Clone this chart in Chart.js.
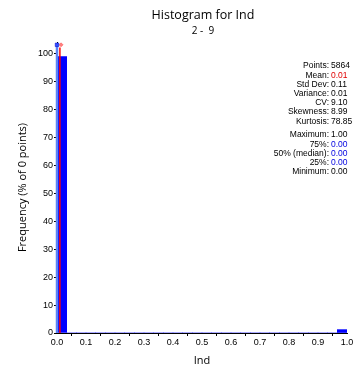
<!DOCTYPE html>
<html>
<head>
<meta charset="utf-8">
<script src="https://cdn.jsdelivr.net/npm/chart.js@4/dist/chart.umd.min.js"></script>
<style>
  body { margin: 0; background: #fff; }
  canvas { display: block; }
</style>
</head>
<body>
<canvas id="histo" width="355" height="367"></canvas>
<script>
// histogram bins over 0..1, percent of points per bin
const binCount = 30;
const binFreq = [98.8, 0, 0, 0, 0, 0, 0, 0, 0, 0,
                 0, 0, 0, 0, 0, 0, 0, 0, 0, 0,
                 0, 0, 0, 0, 0, 0, 0, 0, 0, 1.2];
const xTicks = [0, 0.1, 0.2, 0.3, 0.4, 0.5, 0.6, 0.7, 0.8, 0.9, 1.0];
const meanValue = 0.01;
const medianValue = 0.0;
const markerLevel = 103;

const statLabels = ["Points:", "Mean:", "Std Dev:", "Variance:", "CV:", "Skewness:", "Kurtosis:"];
const statValues = ["5864", "0.01", "0.11", "0.01", "9.10", "8.99", "78.85"];
const quantLabels = ["Maximum:", "75%:", "50% (median):", "25%:", "Minimum:"];
const quantValues = ["1.00", "0.00", "0.00", "0.00", "0.00"];

const binWidth = 1 / binCount;
const barData = binFreq.map((v, i) => ({ x: (i + 0.5) * binWidth, y: v }));

const sansFont = "'Liberation Sans', Arial, sans-serif";
const titleFont = "'Open Sans', sans-serif";

// titles + stats box
const overlay = {
  id: "overlay",
  afterDraw(chart) {
    const c = chart.ctx;
    c.save();
    c.fillStyle = "#000";
    c.textAlign = "center";
    c.textBaseline = "middle";
    c.font = "12.5px " + titleFont;
    c.fillText("Histogram for Ind", 203, 15);
    c.font = "10px " + titleFont;
    c.fillText("2 -  9", 203, 31);

    c.font = "8.5px " + sansFont;
    const colX = 329;
    const drawRow = (lab, val, y, col) => {
      c.textAlign = "right";
      c.fillStyle = "#000";
      c.fillText(lab, colX, y);
      c.textAlign = "left";
      c.fillStyle = col;
      c.fillText(val, colX + 2, y);
    };
    statLabels.forEach((l, i) => {
      drawRow(l, statValues[i], 66 + i * 9.2, l === "Mean:" ? "#e00000" : "#000");
    });
    quantLabels.forEach((l, i) => {
      const blue = l !== "Maximum:" && l !== "Minimum:";
      drawRow(l, quantValues[i], 135 + i * 9.2, blue ? "#0000e0" : "#000");
    });
    c.restore();
  },
};

new Chart(document.getElementById("histo"), {
  data: {
    datasets: [
      {
        type: "bar",
        data: barData,
        backgroundColor: "#0000ff",
        borderWidth: 0,
        barPercentage: 1,
        categoryPercentage: 1,
        order: 3,
      },
      {
        type: "line",
        data: [{ x: medianValue, y: 0 }, { x: medianValue, y: markerLevel }],
        borderColor: "#5b84f5",
        borderWidth: 2.5,
        pointRadius: 0,
        clip: false,
        order: 2,
      },
      {
        type: "line",
        data: [{ x: meanValue, y: 0 }, { x: meanValue, y: markerLevel - 1 }],
        borderColor: "#ff0000",
        borderWidth: 1.5,
        pointRadius: 0,
        clip: false,
        order: 1,
      },
      {
        type: "scatter",
        data: [{ x: medianValue, y: markerLevel }],
        pointStyle: "rect",
        pointRadius: 2.5,
        backgroundColor: "#3050ff",
        borderColor: "#0000cc",
        borderWidth: 0.5,
        clip: false,
        order: 0,
      },
      {
        type: "scatter",
        data: [{ x: meanValue + 0.004, y: markerLevel }],
        pointStyle: "rectRot",
        pointRadius: 2,
        backgroundColor: "#ff8080",
        borderColor: "#ff4040",
        borderWidth: 0.5,
        clip: false,
        order: 0,
      },
    ],
  },
  options: {
    responsive: false,
    animation: false,
    layout: { padding: { top: 42, right: 8, left: 0, bottom: 0 } },
    plugins: {
      legend: { display: false },
      tooltip: { enabled: false },
      title: { display: false },
    },
    scales: {
      x: {
        type: "linear",
        min: 0,
        max: 1,
        offset: false,
        afterBuildTicks: (s) => { s.ticks = xTicks.map((v) => ({ value: v })); },
        afterFit: (s) => { s.height = 34; },
        ticks: {
          color: "#000",
          font: { size: 9, family: sansFont },
          padding: 1,
          maxRotation: 0,
          callback: (v) => Number(v).toFixed(1),
        },
        grid: { drawOnChartArea: false, drawTicks: true, tickLength: 3, color: "#000" },
        border: { color: "#000", width: 1 },
        title: {
          display: true,
          text: "Ind",
          color: "#000",
          font: { size: 11, family: titleFont },
          padding: { top: 3, bottom: 0 },
        },
      },
      y: {
        min: 0,
        max: 104,
        afterBuildTicks: (s) => { s.ticks = s.ticks.filter((t) => t.value % 10 === 0); },
        afterFit: (s) => { s.width = 57; },
        ticks: {
          stepSize: 10,
          color: "#000",
          font: { size: 9, family: sansFont },
          padding: 1,
        },
        grid: { drawOnChartArea: false, drawTicks: true, tickLength: 3, color: "#000" },
        border: { color: "#000", width: 1 },
        title: {
          display: true,
          text: "Frequency (% of 0 points)",
          color: "#000",
          font: { size: 11, family: titleFont },
          padding: { top: 16, bottom: 0 },
        },
      },
    },
  },
  plugins: [overlay],
});
</script>
</body>
</html>
